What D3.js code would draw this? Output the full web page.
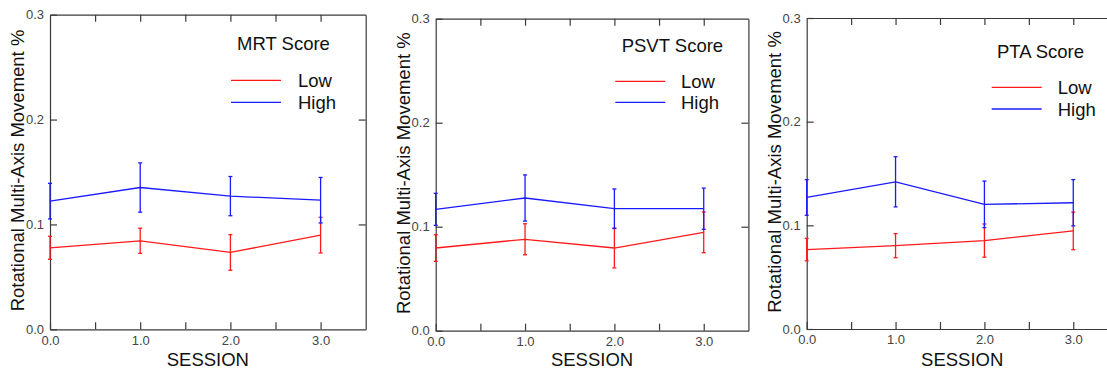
<!DOCTYPE html>
<html>
<head>
<meta charset="utf-8">
<script src="https://cdn.jsdelivr.net/npm/d3@7"></script>
<style>
  html, body { margin: 0; padding: 0; background: #fff; }
  svg { display: block; }
  text { font-family: "Liberation Sans", Arial, sans-serif; }
</style>
</head>
<body>
<svg id="chart" width="1107" height="370"></svg>
<script>
// Sessions on the x axis
const sessions = [0, 1, 2, 3];

// Test-score groups (one panel each)
const scoreTests = ["MRT Score", "PSVT Score", "PTA Score"];
const groupNames = ["Low", "High"];

// Mean rotational multi-axis movement (%) per session, with error bar half-widths
const mrtLow = [0.0777, 0.0844, 0.0733, 0.0898];
const mrtLowErr = [0.011, 0.012, 0.017, 0.017];
const mrtHigh = [0.1222, 0.1352, 0.127, 0.1231];
const mrtHighErr = [0.017, 0.0235, 0.0187, 0.0217];

const psvtLow = [0.0795, 0.0879, 0.0795, 0.0946];
const psvtLowErr = [0.0128, 0.0149, 0.0191, 0.0196];
const psvtHigh = [0.1167, 0.1276, 0.1173, 0.1173];
const psvtHighErr = [0.0154, 0.0222, 0.019, 0.0198];

const ptaLow = [0.0766, 0.0804, 0.0853, 0.0946];
const ptaLowErr = [0.0108, 0.0116, 0.016, 0.0181];
const ptaHigh = [0.1269, 0.142, 0.1202, 0.1218];
const ptaHighErr = [0.0172, 0.0242, 0.0225, 0.0223];

// Axis ticks
const xTicks = [0, 0.5, 1, 1.5, 2, 2.5, 3];
const yTicks = [0, 0.1, 0.2, 0.3];
const xLabel = "SESSION";
const yLabel = "Rotational Multi-Axis Movement %";

const seriesColors = ["#ff1a1a", "#1a1aff"];

// Panel layout: plot box and legend placement
const panels = [
  { left: 50, top: 14.7, width: 315.7, bottom: 329.3,
    titleX: 237, titleY: 50, lineX: 231, lineY: [80.3, 102.3], textX: 298,
    low: mrtLow, lowErr: mrtLowErr, high: mrtHigh, highErr: mrtHighErr },
  { left: 435.7, top: 18.7, width: 312.7, bottom: 330.7,
    titleX: 621.7, titleY: 52.3, lineX: 615.3, lineY: [81.3, 102.3], textX: 681,
    low: psvtLow, lowErr: psvtLowErr, high: psvtHigh, highErr: psvtHighErr },
  { left: 806.7, top: 18, width: 311, bottom: 329,
    titleX: 997, titleY: 58.3, lineX: 991.7, lineY: [87.3, 109], textX: 1057.7,
    low: ptaLow, lowErr: ptaLowErr, high: ptaHigh, highErr: ptaHighErr }
];

const svg = d3.select("#chart");
const frameColor = "#3a3a3a";
const tickLabelColor = "#444";

panels.forEach((p, i) => {
  const x = d3.scaleLinear().domain([0, 3.5]).range([p.left, p.left + p.width]);
  const y = d3.scaleLinear().domain([0, 0.3]).range([p.bottom, p.top]);
  const g = svg.append("g");

  const fmt = d3.format(".1f");
  const styleAxis = sel => {
    sel.select(".domain").attr("stroke", frameColor).attr("stroke-width", 1.2);
    sel.selectAll(".tick line").attr("stroke", frameColor).attr("stroke-width", 1.2);
    sel.selectAll(".tick text").attr("fill", tickLabelColor)
      .style("font-size", "13px").style("font-family", "'Liberation Sans', Arial, sans-serif");
  };

  // Bottom axis with inward ticks, labels only on whole sessions
  g.append("g").attr("transform", `translate(0,${p.bottom})`)
    .call(d3.axisBottom(x).tickValues(xTicks).tickSizeInner(-7).tickSizeOuter(0).tickPadding(6)
      .tickFormat(d => Number.isInteger(d) ? fmt(d) : ""))
    .call(styleAxis);
  // Top axis, ticks only
  g.append("g").attr("transform", `translate(0,${p.top})`)
    .call(d3.axisTop(x).tickValues(xTicks.filter(d => d > 0)).tickSizeInner(-7).tickSizeOuter(0).tickFormat(""))
    .call(styleAxis);
  // Left axis
  g.append("g").attr("transform", `translate(${p.left},0)`)
    .call(d3.axisLeft(y).tickValues(yTicks).tickSizeInner(-7).tickSizeOuter(0).tickPadding(6).tickFormat(fmt))
    .call(styleAxis);
  // Right axis, ticks only
  g.append("g").attr("transform", `translate(${p.left + p.width},0)`)
    .call(d3.axisRight(y).tickValues(yTicks.filter(d => d > 0 && d < 0.3)).tickSizeInner(-7).tickSizeOuter(0).tickFormat(""))
    .call(styleAxis);

  // Axis titles
  g.append("text")
    .attr("x", x(1.75)).attr("y", 366)
    .attr("text-anchor", "middle")
    .style("font-size", "18.5px").attr("fill", "#111")
    .text(xLabel);
  g.append("text")
    .attr("transform", `translate(${p.left - 26},${(p.top + p.bottom) / 2 - 1.5}) rotate(-90)`)
    .attr("text-anchor", "middle")
    .style("font-size", "18.5px").attr("fill", "#111")
    .text(yLabel);

  // Series: lines and error bars
  const series = [
    { name: groupNames[0], vals: p.low, err: p.lowErr, color: seriesColors[0] },
    { name: groupNames[1], vals: p.high, err: p.highErr, color: seriesColors[1] }
  ];
  const line = d3.line().x((d, k) => x(sessions[k])).y(d => y(d));
  series.forEach(s => {
    g.append("path")
      .datum(s.vals)
      .attr("d", line)
      .attr("fill", "none")
      .attr("stroke", s.color)
      .attr("stroke-width", 1.3);
    const eb = g.append("g").attr("stroke", s.color).attr("stroke-width", 1.3);
    sessions.forEach((sx, k) => {
      const cx = x(sx), y0 = y(s.vals[k] - s.err[k]), y1 = y(s.vals[k] + s.err[k]);
      eb.append("line").attr("x1", cx).attr("x2", cx).attr("y1", y0).attr("y2", y1);
      eb.append("line").attr("x1", cx - 2).attr("x2", cx + 2).attr("y1", y0).attr("y2", y0);
      eb.append("line").attr("x1", cx - 2).attr("x2", cx + 2).attr("y1", y1).attr("y2", y1);
    });
  });

  // Legend
  g.append("text")
    .attr("x", p.titleX).attr("y", p.titleY)
    .style("font-size", "18.5px").attr("fill", "#111")
    .text(scoreTests[i]);
  series.forEach((s, k) => {
    g.append("line")
      .attr("x1", p.lineX).attr("x2", p.lineX + 50)
      .attr("y1", p.lineY[k]).attr("y2", p.lineY[k])
      .attr("stroke", s.color).attr("stroke-width", 1.3);
    g.append("text")
      .attr("x", p.textX).attr("y", p.lineY[k] + 6.5)
      .style("font-size", "18.5px").attr("fill", "#111")
      .text(s.name);
  });
});
</script>
</body>
</html>
